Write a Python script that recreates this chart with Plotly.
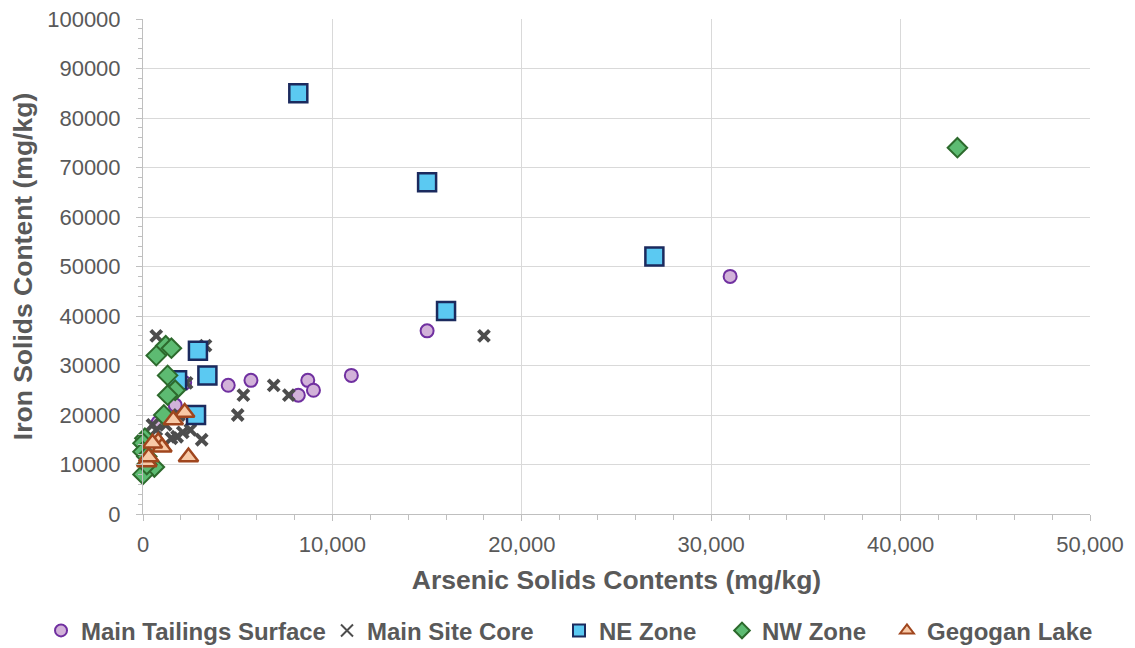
import plotly.graph_objects as go

# Main Tailings Surface
mts_x = [31000, 15000, 11000, 8700, 9000, 8200, 5700, 4500, 1700, 2200, 800]
mts_y = [48000, 37000, 28000, 27000, 25000, 24000, 27000, 26000, 22000, 26500, 18500]
# Main Site Core
msc_x = [18000, 700, 3300, 6900, 7700, 5300, 5000, 3100, 500, 1800, 2100, 1500, 2300, 1200, 2500, 700, 1900]
msc_y = [36000, 36000, 34000, 26000, 24000, 24000, 20000, 15000, 18000, 15600, 16500, 15300, 26500, 18000, 17000, 17000, 20000]
# NE Zone
ne_x = [8200, 15000, 27000, 16000, 2900, 3400, 1800, 2800]
ne_y = [85000, 67000, 52000, 41000, 33000, 28000, 27000, 20000]
# NW Zone
nw_x = [43000, 1200, 1500, 700, 1300, 1700, 1300, 1100, 100, 0, 0, 200, 600, 0, 200]
nw_y = [74000, 34000, 33500, 32000, 28000, 25000, 24000, 20000, 15300, 14300, 12600, 11600, 9500, 8000, 10000]
# Gegogan Lake
gl_x = [2200, 1600, 2400, 800, 1000, 500, 200, 300]
gl_y = [20500, 19000, 11500, 14600, 13500, 14300, 10500, 11500]

FONT = "Liberation Sans, Arial, sans-serif"
GRAY = "#595959"

fig = go.Figure()
fig.add_trace(go.Scatter(x=mts_x, y=mts_y, mode="markers", name="Main Tailings Surface", legend="legend",
                         marker=dict(symbol="circle", size=13, color="#D2B2D9",
                                     line=dict(color="#7030A0", width=2))))
fig.add_trace(go.Scatter(x=msc_x, y=msc_y, mode="markers", name="Main Site Core", legend="legend2",
                         marker=dict(symbol="x-thin", size=11, color="#4D4D4D",
                                     line=dict(color="#4D4D4D", width=4))))
fig.add_trace(go.Scatter(x=ne_x, y=ne_y, mode="markers", name="NE Zone", legend="legend3",
                         marker=dict(symbol="square", size=18, color="#5BC9F2",
                                     line=dict(color="#1B2A5E", width=2.5))))
fig.add_trace(go.Scatter(x=nw_x, y=nw_y, mode="markers", name="NW Zone", legend="legend4",
                         marker=dict(symbol="diamond", size=15, color="#5DBB72",
                                     line=dict(color="#2D6A2D", width=2))))
fig.add_trace(go.Scatter(x=gl_x, y=gl_y, mode="markers", name="Gegogan Lake", legend="legend5",
                         marker=dict(symbol="triangle-up", size=17, color="#F8C9A6",
                                     line=dict(color="#A0461E", width=2.5))))

fig.update_traces(cliponaxis=False)

def leg(xpos):
    return dict(orientation="h", x=xpos, xanchor="left", y=-0.236, yanchor="middle",
                font=dict(size=24, color=GRAY, family=FONT, weight="bold"),
                itemwidth=30, itemsizing="constant", bgcolor="rgba(0,0,0,0)")

fig.update_layout(
    width=1127, height=640,
    margin=dict(l=135, r=45, t=11, b=134, autoexpand=False),
    paper_bgcolor="white", plot_bgcolor="white",
    font=dict(family=FONT, color=GRAY),
    legend=leg(-0.1077), legend2=leg(0.1943), legend3=leg(0.4393),
    legend4=leg(0.6114), legend5=leg(0.7856),
    showlegend=True,
)
fig.update_xaxes(
    range=[0, 50000], tickvals=[0, 10000, 20000, 30000, 40000, 50000],
    tickformat=",", tickfont=dict(size=22, color=GRAY, family=FONT),
    showgrid=True, gridcolor="#D9D9D9", gridwidth=1,
    showline=True, linecolor="#BFBFBF", linewidth=1,
    ticks="outside", ticklen=6, tickcolor="#BFBFBF", ticklabelstandoff=5,
    ticklabeloverflow="allow",
    minor=dict(dtick=2000, ticks="outside", ticklen=5, tickcolor="#BFBFBF", showgrid=False),
    zeroline=False, automargin=False,
    title=dict(text="<b>Arsenic Solids Contents (mg/kg)</b>", font=dict(size=26.5, color=GRAY, family=FONT), standoff=14),
)
fig.update_yaxes(
    range=[0, 100000], dtick=10000, tickformat="d",
    tickfont=dict(size=22, color=GRAY, family=FONT),
    showgrid=True, gridcolor="#D9D9D9", gridwidth=1,
    showline=True, linecolor="#BFBFBF", linewidth=1,
    ticks="outside", ticklen=6, tickcolor="#BFBFBF", ticklabelstandoff=11,
    ticklabeloverflow="allow",
    minor=dict(dtick=2000, ticks="outside", ticklen=4, tickcolor="#BFBFBF", showgrid=False),
    zeroline=False, automargin=False,
    title=dict(text="<b>Iron Solids Content (mg/kg)</b>", font=dict(size=26.5, color=GRAY, family=FONT), standoff=6),
)

fig.write_html("out.html")
